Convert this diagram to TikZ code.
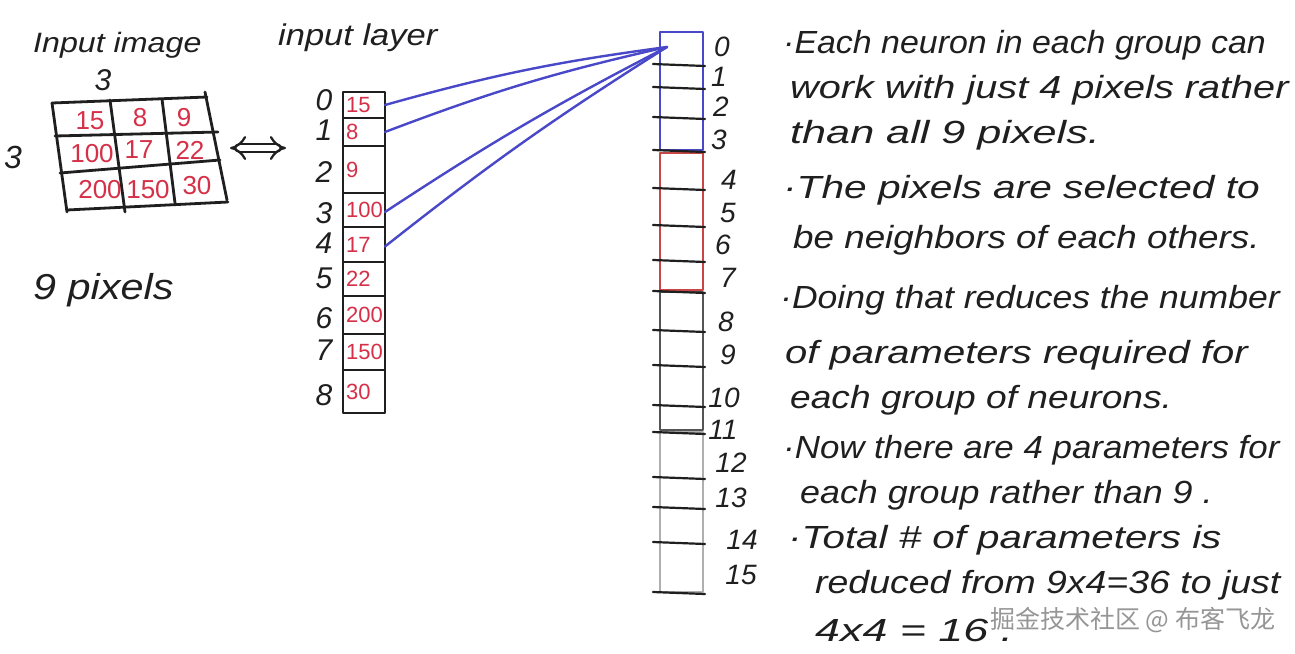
\documentclass[tikz,border=0pt]{standalone}
\usepackage{fontspec}
\setmainfont{Liberation Sans}
\newfontfamily\handfont[FakeStretch=1.15]{Liberation Sans}
\newfontfamily\notefont{Liberation Sans}
\newfontfamily\cjk{Noto Sans CJK SC}
\usetikzlibrary{arrows.meta}
\definecolor{redink}{RGB}{214,48,72}
\definecolor{blueink}{RGB}{72,72,200}
\definecolor{redbox}{RGB}{200,70,70}
\definecolor{darkbox}{RGB}{85,85,85}
\definecolor{lightbox}{RGB}{175,175,175}
\definecolor{wm}{RGB}{150,150,150}
\begin{document}
\begin{tikzpicture}[x=1pt,y=-1pt,line cap=round,line join=round,
  ink/.style={line width=2.8pt,black!88},
  hand/.style={font=\handfont\fontsize{#1}{#1}\selectfont\itshape,inner sep=0pt,text=black!88},
  note/.style={font=\notefont\fontsize{32}{32}\selectfont\itshape,inner sep=0pt,text=black!88,anchor=west},
  digit/.style={font=\fontsize{#1}{#1}\selectfont\itshape,inner sep=0pt,text=black!88},
  val/.style={font=\fontsize{#1}{#1}\selectfont,inner sep=0pt,text=redink},
  cellbox/.style={draw=black!88,line width=2.8pt,minimum width=42pt,inner sep=0pt,outer sep=0pt},
  grp/.style={draw=#1,line width=2.4pt,minimum width=43pt,inner sep=0pt,outer sep=0pt},
  blueline/.style={draw=blueink,line width=2.4pt}]
\useasboundingbox (0,0) rectangle (1295,653);
\fill[white] (0,0) rectangle (1295,653);

% ---------- input image ----------
\node[hand=28,anchor=west] (imgtitle) at (33,45) {Input image};
\node[digit=30] (dimtop) at (103,80) {3};
\node[digit=32] (dimleft) at (13,157) {3};
\draw[ink] (52,103)--(207,97) (55,136)--(218,132) (60,173)--(220,160) (67,210)--(228,202);
\draw[ink] (52,103)--(67,212) (110,100)--(125,212) (162,99)--(175,203) (205,92)--(227,200);
\foreach \n/\x/\y/\v in {a/90/121/15,b/140/118/8,c/184/118/9,
                          d/92/154/100,e/139/150/17,f/190/150/22,
                          g/100/190/200,h/148/190/150,i/197/186/30}
  \node[val=26] (px\n) at (\x,\y) {\v};
\coordinate (arrL) at (230,148);
\coordinate (arrR) at (286,148);
\draw[line width=2.2pt,black!88,double,double distance=6pt,{Implies}-{Implies}] (arrL) -- (arrR);
\node[hand=36,anchor=west] (ninepx) at (33,290) {9 pixels};

% ---------- input layer ----------
\node[hand=30,anchor=west] (laytitle) at (278,38) {input layer};
\foreach \i/\t/\b/\v/\iy in {0/92/118/15/100,1/118/146/8/130,2/146/193/9/172,3/193/227/100/213,
                          4/227/262/17/243,5/262/296/22/278,6/296/334/200/318,7/334/370/150/350,8/370/413/30/395}{
  \node[cellbox,minimum height={\b-\t},anchor=north west] (in\i) at (343,\t) {};
  \node[val=22,anchor=west] (iv\i) at ([xshift=3pt]in\i.west) {\v};
  \node[digit=30] (ii\i) at (324,\iy) {\i};
}

% ---------- output column ----------
\node[grp=blueink,minimum height=118,anchor=north west] (g1) at (660,32) {};
\node[grp=redbox,minimum height=137,anchor=north west] (g2) at (660,153) {};
\node[grp=darkbox,minimum height=138,anchor=north west] (g3) at (660,292) {};
\node[grp=lightbox,minimum height=160,anchor=north west] (g4) at (660,432) {};
\foreach \y in {64,87,117,150,188,225,260,291,330,365,405,432,477,507,542,592}
  \draw[ink,line width=2.2pt] (653,\y) -- (705,\y+2);
\foreach \i/\x/\y in {0/722/47,1/719/77,2/721/107,3/719/140,4/729/180,5/728/213,6/723/245,7/728/278,
                      8/726/322,9/728/355,10/724/398,11/723/430,12/731/463,13/731/498,14/742/540,15/741/575}
  \node[digit=28] (oi\i) at (\x,\y) {\i};

% ---------- connections ----------
\coordinate (hub) at (667,47);
\draw[blueline] (in0.east) to[bend left=4] (hub);
\draw[blueline] (in1.east) to[bend left=4] (hub);
\draw[blueline] ([yshift=-2pt]in3.east) to[bend left=3] (hub);
\draw[blueline] ([yshift=-2pt]in4.east) to[bend left=3] (hub);

% ---------- notes ----------
\node[note] (note1) at (783,45) {\addfontfeatures{FakeStretch=1.06}\textperiodcentered Each neuron in each group can};
\node[note] (note2) at (790,90) {\addfontfeatures{FakeStretch=1.24}work with just 4 pixels rather};
\node[note] (note3) at (790,135) {\addfontfeatures{FakeStretch=1.35}than all 9 pixels.};
\node[note] (note4) at (783,190) {\addfontfeatures{FakeStretch=1.27}\textperiodcentered The pixels are selected to};
\node[note] (note5) at (793,240) {\addfontfeatures{FakeStretch=1.15}be neighbors of each others.};
\node[note] (note6) at (780,300) {\addfontfeatures{FakeStretch=1.11}\textperiodcentered Doing that reduces the number};
\node[note] (note7) at (785,355) {\addfontfeatures{FakeStretch=1.25}of parameters required for};
\node[note] (note8) at (790,400) {\addfontfeatures{FakeStretch=1.16}each group of neurons.};
\node[note] (note9) at (783,450) {\addfontfeatures{FakeStretch=1.09}\textperiodcentered Now there are 4 parameters for};
\node[note] (note10) at (800,495) {\addfontfeatures{FakeStretch=1.12}each group rather than 9 .};
\node[note] (note11) at (788,540) {\addfontfeatures{FakeStretch=1.26}\textperiodcentered Total \# of parameters is};
\node[note] (note12) at (815,585) {\addfontfeatures{FakeStretch=1.17}reduced from 9x4=36 to just};
\node[note] (note13) at (815,630) {\addfontfeatures{FakeStretch=1.4}4x4 = 16 .};

\node[font=\cjk\fontsize{25}{25}\selectfont,text=wm,anchor=west,inner sep=0pt] (watermark) at (990,620) {掘金技术社区 @ 布客飞龙};
\end{tikzpicture}
\end{document}
